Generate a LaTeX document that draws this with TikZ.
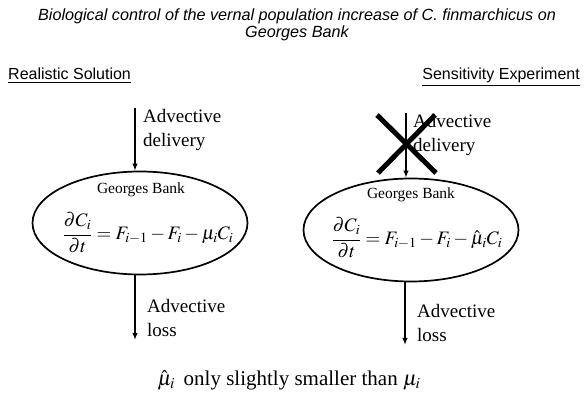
\documentclass[tikz,border=0pt]{standalone}
\usepackage{amsmath}
\usepackage{mathptmx}
\usepackage{fontspec}
\setmainfont{Liberation Serif}
\newfontfamily\headfont{Liberation Sans}
\usetikzlibrary{shapes.geometric,arrows.meta}

\tikzset{
  flow/.style={line width=1.7pt,-{Latex[length=7pt,width=5.5pt]}},
  bank/.style={ellipse,draw,line width=1.7pt,minimum width=215pt,minimum height=103pt,inner sep=0pt},
  side/.style={align=left,anchor=west,inner sep=0pt,font=\fontsize{19}{24.5}\selectfont},
  head/.style={inner sep=0pt,font=\headfont\fontsize{16}{18}\selectfont},
  place/.style={inner sep=0pt,font=\fontsize{15.5}{18}\selectfont},
  eqn/.style={inner sep=0pt,font=\fontsize{19}{22}\selectfont},
}

\begin{document}
\begin{tikzpicture}[x=1pt,y=-1pt]
\useasboundingbox (0,0) rectangle (584,395);
% Title and headings
\node[inner sep=0pt,align=center,font=\headfont\itshape\fontsize{16.2}{16.8}\selectfont] (title) at (297,25)
  {Biological control of the vernal population increase of C. finmarchicus on\\Georges Bank};
\node[head,anchor=base west] (realistic) at (8,80) {\underline{Realistic Solution}};
\node[head,anchor=base east] (sensitivity) at (580,80) {\underline{Sensitivity Experiment}};
% Realistic solution
\node[bank] (gbL) at (140,223) {};
\node[place] (nameL) at (141,190) {Georges Bank};
\node[eqn] (eqL) at (148,233) {$\dfrac{\partial C_i}{\partial t} = F_{i-1} - F_i - \mu_i C_i$};
\coordinate (inL) at (135,108);
\coordinate (outL) at (135,340);
\draw[flow] (inL) -- (inL |- gbL.north);
\draw[flow] (outL |- gbL.south) -- (outL);
\node[side] (delivL) at (143,130) {Advective\\delivery};
\node[side] (lossL) at (147,318) {Advective\\loss};
% Sensitivity experiment
\node[bank] (gbR) at (411,230) {};
\node[place] (nameR) at (411,195) {Georges Bank};
\node[eqn] (eqR) at (417,238) {$\dfrac{\partial C_i}{\partial t} = F_{i-1} - F_i - \hat{\mu}_i C_i$};
\coordinate (inR) at (406,113);
\coordinate (outR) at (405,345);
\draw[flow] (inR) -- (inR |- gbR.north);
\draw[flow] (outR |- gbR.south) -- (outR);
\node[side] (delivR) at (413,135) {Advective\\delivery};
\node[side] (lossR) at (417,323) {Advective\\loss};
% cross over the delivery
\draw[line width=5pt] (377,115) -- (436,173);
\draw[line width=5pt] (435,115) -- (378,173);
% Note
\node[inner sep=0pt,font=\fontsize{21}{24}\selectfont] (note) at (289,380)
  {$\hat{\mu}_i$\, only slightly smaller than $\mu_i$};
\end{tikzpicture}
\end{document}
